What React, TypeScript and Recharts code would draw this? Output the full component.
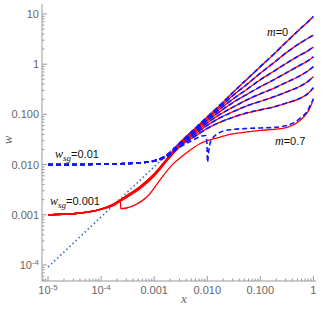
import { Line, LineChart, XAxis, YAxis } from 'recharts';

// shared x grid for the m = 0 ... 0.6 curves
const xGrid = [
  0.00001, 0.00003, 0.0001, 0.00018, 0.0003, 0.00056, 0.001, 0.0018,
  0.003, 0.0056, 0.01, 0.018, 0.03, 0.056, 0.1, 0.18, 0.3, 0.56, 0.8, 1,
];

// w_sg = 0.001 (red) part for x <= 0.0018, one row per m = 0, 0.1, ... 0.6
const redLow = [
  [0.001, 0.00105, 0.0013, 0.0017, 0.0024, 0.0038, 0.0066, 0.0138],
  [0.001, 0.00105, 0.0013, 0.00168, 0.00235, 0.0037, 0.0064, 0.0135],
  [0.001, 0.00105, 0.0013, 0.00166, 0.0023, 0.0036, 0.0063, 0.0132],
  [0.001, 0.00105, 0.0013, 0.00164, 0.00228, 0.00355, 0.0062, 0.013],
  [0.001, 0.00105, 0.00129, 0.00163, 0.00226, 0.0035, 0.0061, 0.0128],
  [0.001, 0.00105, 0.00129, 0.00162, 0.00224, 0.00345, 0.006, 0.0126],
  [0.001, 0.00105, 0.00128, 0.0016, 0.0022, 0.0034, 0.0059, 0.0124],
];

// w_sg = 0.01 (blue) part for x <= 0.0018
const blueLow = [
  [0.01, 0.01, 0.0102, 0.0103, 0.0105, 0.0109, 0.0119, 0.0162],
  [0.01, 0.01, 0.0102, 0.0103, 0.0105, 0.0109, 0.0119, 0.0159],
  [0.01, 0.01, 0.0102, 0.0103, 0.0105, 0.0109, 0.0119, 0.0156],
  [0.01, 0.01, 0.0102, 0.0103, 0.0105, 0.0109, 0.0119, 0.0153],
  [0.01, 0.01, 0.0102, 0.0103, 0.0105, 0.0109, 0.0119, 0.015],
  [0.01, 0.01, 0.0102, 0.0103, 0.0105, 0.0109, 0.0118, 0.0148],
  [0.01, 0.01, 0.0102, 0.0103, 0.0105, 0.0109, 0.0118, 0.0146],
];

// common part for x >= 0.003 (both families coincide)
const fanW = [
  [0.0269, 0.0501, 0.0891, 0.158, 0.269, 0.501, 0.891, 1.585, 2.69, 5.01, 7.08, 8.91],
  [0.0263, 0.0479, 0.0851, 0.1445, 0.234, 0.398, 0.661, 1.072, 1.66, 2.63, 3.31, 3.8],
  [0.0251, 0.0457, 0.0794, 0.132, 0.1995, 0.316, 0.49, 0.724, 1.023, 1.514, 1.862, 2.19],
  [0.0245, 0.0437, 0.0741, 0.1175, 0.17, 0.251, 0.355, 0.49, 0.661, 0.955, 1.175, 1.4],
  [0.024, 0.0417, 0.0676, 0.1023, 0.138, 0.195, 0.257, 0.331, 0.427, 0.589, 0.741, 0.891],
  [0.0234, 0.0389, 0.0603, 0.0871, 0.1122, 0.148, 0.182, 0.224, 0.275, 0.363, 0.457, 0.562],
  [0.0224, 0.0355, 0.0525, 0.0708, 0.0871, 0.1072, 0.123, 0.141, 0.166, 0.209, 0.263, 0.339],
];

// m = 0.7 has its own shape in each family
const red07X = [
  0.00001, 0.00003, 0.0001, 0.00018, 0.00023, 0.000235, 0.0004, 0.0008, 0.0013, 0.0022,
  0.0035, 0.0056, 0.0074, 0.0155, 0.03, 0.056, 0.1, 0.18, 0.32, 0.56, 0.75, 0.87, 1,
];
const red07W = [
  0.001, 0.00105, 0.00129, 0.00158, 0.0019, 0.00132, 0.00151, 0.00251, 0.00501, 0.01,
  0.0151, 0.0219, 0.0263, 0.0339, 0.0407, 0.0447, 0.0479, 0.0501, 0.055, 0.0759, 0.1047, 0.138, 0.204,
];
const blue07X = [
  0.00001, 0.0001, 0.0003, 0.001, 0.0018, 0.003, 0.0056, 0.008, 0.0093, 0.0099, 0.0101, 0.0107,
  0.0115, 0.0132, 0.016, 0.02, 0.03, 0.056, 0.1, 0.18, 0.32, 0.56, 0.75, 1,
];
const blue07W = [
  0.01, 0.0102, 0.0105, 0.0117, 0.0148, 0.0219, 0.0316, 0.0372, 0.038, 0.0251, 0.0112, 0.0191,
  0.0282, 0.0355, 0.0417, 0.0468, 0.0501, 0.0525, 0.0537, 0.055, 0.0603, 0.0832, 0.1122, 0.204,
];

// dotted reference line
const diagX = [0.00001, 1];
const diagW = [0.000091, 8.9];

const xMajor = [0.00001, 0.0001, 0.001, 0.01, 0.1, 1];
const xLabels = ['10^-5', '10^-4', '0.001', '0.010', '0.100', '1'];
const yMajor = [0.0001, 0.001, 0.01, 0.1, 1, 10];
const yLabels = ['10^-4', '0.001', '0.010', '0.100', '1', '10'];

const xDomain = [7.7e-6, 1.12];
const yDomain = [4.8e-5, 15.8];

const AXIS = '#9a9a9a';
const LABEL = '#666';
const SANS = '"Liberation Sans", Arial, sans-serif';
const SERIF = '"Liberation Serif", "Times New Roman", serif';

function withMinor(majors: number[], domain: number[]) {
  const out = [...majors];
  for (const d of [...majors, majors[0] / 10]) {
    for (let k = 2; k <= 9; k++) {
      const v = d * k;
      if (v > domain[0] && v < domain[1]) out.push(v);
    }
  }
  return out;
}

const xTicks = withMinor(xMajor, xDomain);
const yTicks = withMinor(yMajor, yDomain);

const toPoints = (xs: number[], ws: number[]) => xs.map((x, i) => ({ x, w: ws[i] }));

function tickText(label: string, x: number, y: number, anchor: 'middle' | 'end') {
  const [base, exp] = label.split('^');
  return (
    <text x={x} y={y} textAnchor={anchor} fontFamily={SANS} fontSize={11} fill={LABEL}>
      {base}
      {exp && (
        <tspan dy={-4} fontSize={8}>
          {exp}
        </tspan>
      )}
    </text>
  );
}

const BottomTick = (p: any) => {
  const i = xMajor.indexOf(p.payload.value);
  return (
    <g>
      <line x1={p.x} x2={p.x} y1={p.y} y2={p.y - (i >= 0 ? 5 : 2.5)} stroke={AXIS} />
      {i >= 0 && tickText(xLabels[i], p.x, p.y + 13, 'middle')}
    </g>
  );
};

const TopTick = (p: any) => {
  const major = xMajor.includes(p.payload.value);
  return <line x1={p.x} x2={p.x} y1={p.y} y2={p.y + (major ? 5 : 2.5)} stroke={AXIS} />;
};

const LeftTick = (p: any) => {
  const i = yMajor.indexOf(p.payload.value);
  return (
    <g>
      <line x1={p.x} x2={p.x + (i >= 0 ? 5 : 2.5)} y1={p.y} y2={p.y} stroke={AXIS} />
      {i >= 0 && tickText(yLabels[i], p.x - 3, p.y + 4, 'end')}
    </g>
  );
};

const RightTick = (p: any) => {
  const major = yMajor.includes(p.payload.value);
  return <line x1={p.x} x2={p.x - (major ? 5 : 2.5)} y1={p.y} y2={p.y} stroke={AXIS} />;
};

export default function App() {
  const redSeries = redLow.map((low, m) => toPoints(xGrid, [...low, ...fanW[m]]));
  const blueSeries = blueLow.map((low, m) => toPoints(xGrid, [...low, ...fanW[m]]));

  return (
    <div style={{ position: 'absolute', left: 0, top: 0, width: 325, height: 315, background: '#fff' }}>
      <LineChart width={325} height={315} margin={{ top: 4, right: 9, bottom: 0, left: 0 }}>
        <XAxis
          dataKey="x"
          type="number"
          scale="log"
          domain={xDomain}
          allowDataOverflow
          ticks={xTicks}
          interval={0}
          height={34}
          tickSize={0}
          tickMargin={0}
          tickLine={false}
          tick={BottomTick}
          axisLine={{ stroke: AXIS }}
        />
        <XAxis
          xAxisId="top"
          orientation="top"
          type="number"
          scale="log"
          domain={xDomain}
          allowDataOverflow
          ticks={xTicks}
          interval={0}
          height={0}
          tickSize={0}
          tickMargin={0}
          tickLine={false}
          tick={TopTick}
          axisLine={{ stroke: AXIS }}
        />
        <YAxis
          type="number"
          scale="log"
          domain={yDomain}
          allowDataOverflow
          ticks={yTicks}
          interval={0}
          width={42}
          tickSize={0}
          tickMargin={0}
          tickLine={false}
          tick={LeftTick}
          axisLine={{ stroke: AXIS }}
        />
        <YAxis
          yAxisId="right"
          orientation="right"
          type="number"
          scale="log"
          domain={yDomain}
          allowDataOverflow
          ticks={yTicks}
          interval={0}
          width={0}
          tickSize={0}
          tickMargin={0}
          tickLine={false}
          tick={RightTick}
          axisLine={{ stroke: AXIS }}
        />
        <Line
          data={toPoints(diagX, diagW)}
          dataKey="w"
          type="linear"
          stroke="#4a78c8"
          strokeWidth={1.7}
          strokeDasharray="1.6 2.6"
          dot={false}
          activeDot={false}
          isAnimationActive={false}
        />
        {redSeries.map((d, m) => (
          <Line
            key={'r' + m}
            data={d}
            dataKey="w"
            type="monotone"
            stroke="#ff0000"
            strokeWidth={1.3}
            dot={false}
            activeDot={false}
            isAnimationActive={false}
          />
        ))}
        <Line
          data={toPoints(red07X, red07W)}
          dataKey="w"
          type="monotone"
          stroke="#ff0000"
          strokeWidth={1.3}
          dot={false}
          activeDot={false}
          isAnimationActive={false}
        />
        {blueSeries.map((d, m) => (
          <Line
            key={'b' + m}
            data={d}
            dataKey="w"
            type="monotone"
            stroke="#1414ff"
            strokeWidth={1.6}
            strokeDasharray="5 3"
            dot={false}
            activeDot={false}
            isAnimationActive={false}
          />
        ))}
        <Line
          data={toPoints(blue07X, blue07W)}
          dataKey="w"
          type="monotone"
          stroke="#1414ff"
          strokeWidth={1.6}
          strokeDasharray="5 3"
          dot={false}
          activeDot={false}
          isAnimationActive={false}
        />
      </LineChart>
      <svg
        width={325}
        height={315}
        style={{ position: 'absolute', left: 0, top: 0, pointerEvents: 'none' }}
      >
        <text x={267} y={36} fontSize={12} fill="#111">
          <tspan fontFamily={SERIF} fontStyle="italic">m</tspan>
          <tspan fontFamily={SANS} fontSize={11}>=0</tspan>
        </text>
        <text x={275} y={145} fontSize={12} fill="#111">
          <tspan fontFamily={SERIF} fontStyle="italic">m</tspan>
          <tspan fontFamily={SANS} fontSize={11}>=0.7</tspan>
        </text>
        <text x={55} y={158} fontSize={12} fill="#111">
          <tspan fontFamily={SERIF} fontStyle="italic">w</tspan>
          <tspan fontFamily={SERIF} fontStyle="italic" fontSize={9} dy={3}>sg</tspan>
          <tspan fontFamily={SANS} fontSize={11} dy={-3}>=0.01</tspan>
        </text>
        <text x={50} y={205} fontSize={12} fill="#111">
          <tspan fontFamily={SERIF} fontStyle="italic">w</tspan>
          <tspan fontFamily={SERIF} fontStyle="italic" fontSize={9} dy={3}>sg</tspan>
          <tspan fontFamily={SANS} fontSize={11} dy={-3}>=0.001</tspan>
        </text>
        <text x={184} y={303} textAnchor="middle" fontFamily={SERIF} fontStyle="italic" fontSize={13} fill={LABEL}>
          x
        </text>
        <text
          x={12}
          y={140}
          textAnchor="middle"
          fontFamily={SERIF}
          fontStyle="italic"
          fontSize={13}
          fill={LABEL}
          transform="rotate(-90 12 140)"
        >
          w
        </text>
      </svg>
    </div>
  );
}
